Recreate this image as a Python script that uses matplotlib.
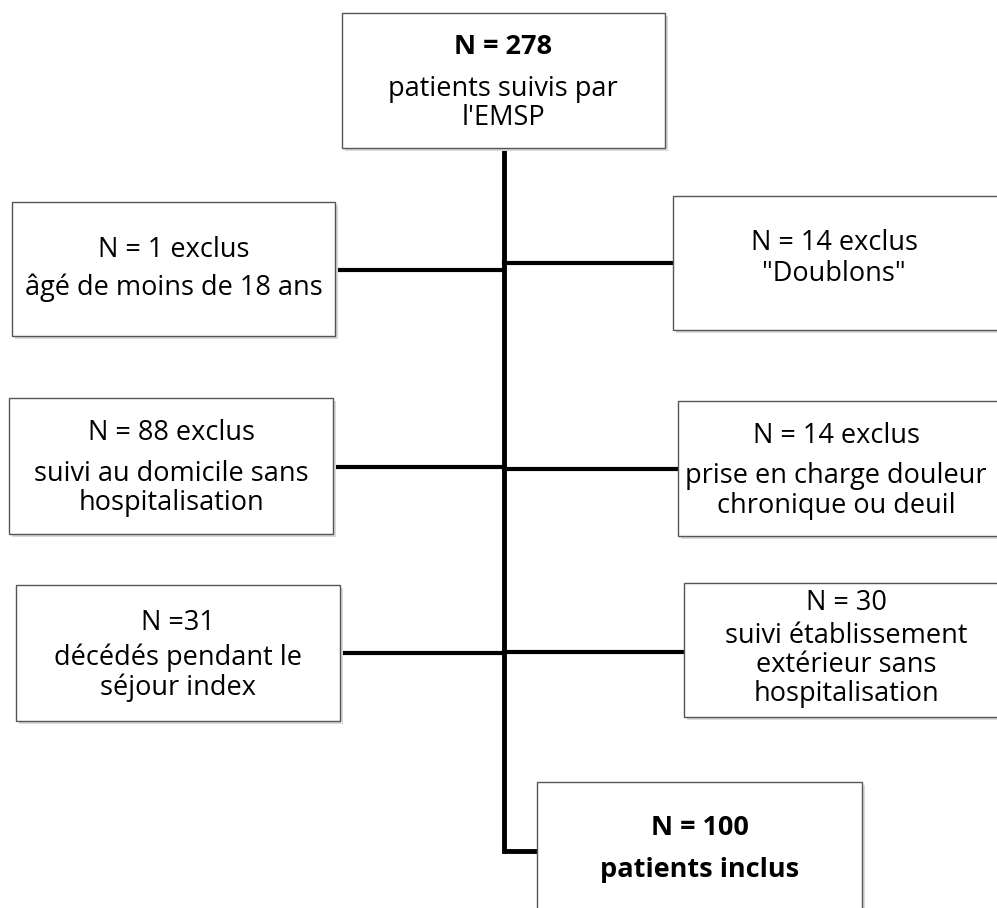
import matplotlib.pyplot as plt
from matplotlib.patches import Rectangle

# textes des boites (titre, lignes)
top_title = "N = 278"
top_lines = ["patients suivis par", "l'EMSP"]

left_titles = ["N = 1 exclus", "N = 88 exclus", "N =31"]
left_lines = [["âgé de moins de 18 ans"],
              ["suivi au domicile sans", "hospitalisation"],
              ["décédés pendant le", "séjour index"]]

right_titles = ["N = 14 exclus", "N = 14 exclus", "N = 30"]
right_lines = [['"Doublons"'],
               ["prise en charge douleur", "chronique ou deuil"],
               ["suivi établissement", "extérieur sans", "hospitalisation"]]

bottom_title = "N = 100"
bottom_lines = ["patients inclus"]

plt.rcParams['font.family'] = ['Open Sans', 'DejaVu Sans']

fig = plt.figure(figsize=(9.97, 9.08), dpi=100)
ax = fig.add_axes([0, 0, 1, 1])
ax.set_xlim(0, 997)
ax.set_ylim(908, 0)
ax.axis('off')

FS = 19.5


def boite(x0, y0, x1, y1):
    ax.add_patch(Rectangle((x0 + 3, y0 + 3), x1 - x0, y1 - y0,
                           facecolor='#d9d9d9', edgecolor='none', zorder=1))
    ax.add_patch(Rectangle((x0, y0), x1 - x0, y1 - y0,
                           facecolor='white', edgecolor='#555555', lw=1, zorder=2))


def textes(xc, ys, titre, lignes):
    ax.text(xc, ys[0], titre, ha='center', va='center', fontsize=FS, zorder=3)
    for y, t in zip(ys[1:], lignes):
        ax.text(xc, y, t, ha='center', va='center', fontsize=FS, zorder=3)


# tronc principal
xm = 504
ax.plot([xm, xm, 537], [148, 851, 851], color='black', lw=3.5,
        solid_joinstyle='miter', zorder=0)

# boite du haut
boite(342, 13, 665, 148)
ax.text(503, 47, top_title, ha='center', va='center', fontsize=FS,
        fontweight='bold', zorder=3)
ax.text(503, 89, top_lines[0], ha='center', va='center', fontsize=FS, zorder=3)
ax.text(503, 118, top_lines[1], ha='center', va='center', fontsize=FS, zorder=3)

# boites de gauche
left_box = [(12, 202, 335, 336), (9, 398, 333, 534), (16, 585, 340, 721)]
left_y = [[250, 288], [433, 474, 503], [623, 658, 688]]
left_link = [270, 467, 653]
for i in range(3):
    x0, y0, x1, y1 = left_box[i]
    ax.plot([x1, xm], [left_link[i], left_link[i]], color='black', lw=3, zorder=0)
    boite(x0, y0, x1, y1)
    textes((x0 + x1) / 2, left_y[i], left_titles[i], left_lines[i])

# boites de droite (coupees par le bord)
right_box = [(673, 196, 1010, 330), (678, 401, 1010, 536), (684, 583, 1010, 717)]
right_y = [[243, 274], [436, 476, 506], [603, 636, 665, 694]]
right_xc = [834, 836, 846]
right_link = [263, 469, 652]
for i in range(3):
    x0, y0, x1, y1 = right_box[i]
    ax.plot([xm, x0], [right_link[i], right_link[i]], color='black', lw=3, zorder=0)
    boite(x0, y0, x1, y1)
    textes(right_xc[i], right_y[i], right_titles[i], right_lines[i])

# boite du bas
boite(537, 782, 862, 960)
ax.text(700, 828, bottom_title, ha='center', va='center', fontsize=FS,
        fontweight='bold', zorder=3)
ax.text(700, 870, bottom_lines[0], ha='center', va='center', fontsize=FS,
        fontweight='bold', zorder=3)

fig.savefig('out.png', dpi=100)
